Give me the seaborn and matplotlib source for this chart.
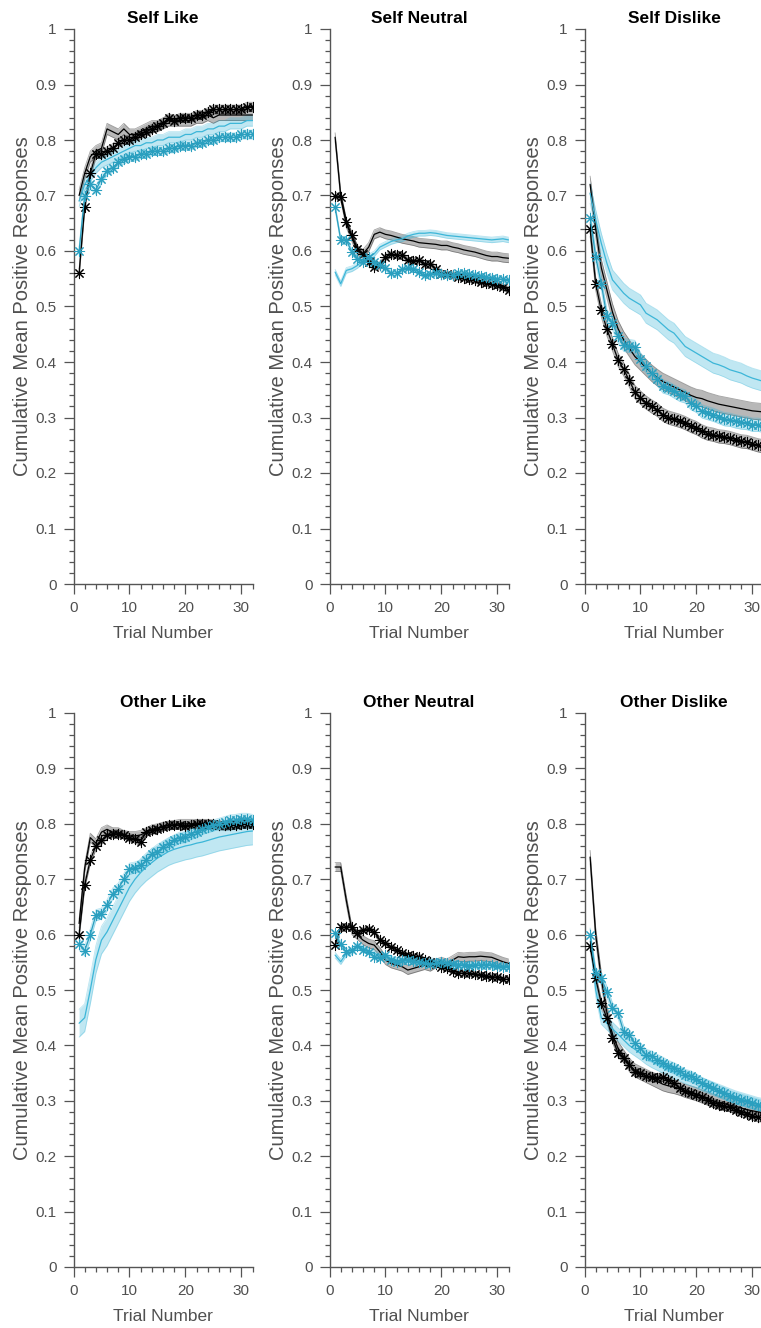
import matplotlib
matplotlib.use("Agg")
import numpy as np
import matplotlib.pyplot as plt
import seaborn as sns
from matplotlib.ticker import MultipleLocator, FuncFormatter

# ---------------------------------------------------------------- data
trials = list(range(1, 33))

panel_titles = ["Self Like", "Self Neutral", "Self Dislike",
                "Other Like", "Other Neutral", "Other Dislike"]

# each panel: black line, black stars, cyan line, cyan stars
self_like_k_line = [0.70, 0.74, 0.77, 0.78, 0.785, 0.82, 0.815, 0.81, 0.82, 0.81, 0.81, 0.815, 0.82, 0.825, 0.825, 0.83,
                    0.835, 0.835, 0.835, 0.835, 0.835, 0.84, 0.84, 0.845, 0.84, 0.845, 0.845, 0.845, 0.845, 0.845, 0.845, 0.845]
self_like_k_star = [0.56, 0.68, 0.74, 0.775, 0.775, 0.78, 0.785, 0.795, 0.80, 0.80, 0.805, 0.81, 0.815, 0.82, 0.825, 0.83,
                    0.84, 0.835, 0.84, 0.84, 0.84, 0.845, 0.845, 0.85, 0.855, 0.855, 0.855, 0.855, 0.855, 0.855, 0.86, 0.86]
self_like_c_line = [0.69, 0.72, 0.735, 0.75, 0.76, 0.765, 0.77, 0.775, 0.78, 0.785, 0.79, 0.79, 0.795, 0.795, 0.80, 0.80,
                    0.805, 0.805, 0.805, 0.81, 0.81, 0.815, 0.815, 0.82, 0.82, 0.825, 0.825, 0.83, 0.83, 0.83, 0.835, 0.835]
self_like_c_star = [0.60, 0.70, 0.72, 0.71, 0.73, 0.745, 0.75, 0.76, 0.765, 0.77, 0.77, 0.775, 0.775, 0.78, 0.78, 0.78,
                    0.785, 0.785, 0.79, 0.79, 0.79, 0.795, 0.795, 0.80, 0.80, 0.805, 0.805, 0.805, 0.805, 0.81, 0.81, 0.81]
self_like_sem = [0.010, 0.008, 0.010, 0.008]

self_neutral_k_line = [0.805, 0.70, 0.65, 0.625, 0.60, 0.595, 0.607, 0.63, 0.634, 0.63, 0.628, 0.625, 0.622, 0.62, 0.618, 0.615,
                       0.614, 0.613, 0.612, 0.61, 0.61, 0.607, 0.605, 0.602, 0.60, 0.598, 0.595, 0.592, 0.59, 0.59, 0.588, 0.587]
self_neutral_k_star = [0.70, 0.697, 0.652, 0.628, 0.604, 0.595, 0.58, 0.571, 0.574, 0.589, 0.594, 0.592, 0.592, 0.583, 0.582, 0.583,
                       0.577, 0.576, 0.568, 0.559, 0.558, 0.556, 0.554, 0.552, 0.55, 0.548, 0.545, 0.543, 0.54, 0.538, 0.535, 0.53]
self_neutral_c_line = [0.562, 0.541, 0.565, 0.568, 0.574, 0.583, 0.589, 0.595, 0.607, 0.612, 0.617, 0.62, 0.622, 0.627, 0.63, 0.632,
                       0.632, 0.633, 0.632, 0.63, 0.628, 0.627, 0.626, 0.625, 0.624, 0.623, 0.622, 0.621, 0.62, 0.621, 0.622, 0.62]
self_neutral_c_star = [0.679, 0.62, 0.62, 0.598, 0.586, 0.58, 0.589, 0.58, 0.575, 0.57, 0.56, 0.56, 0.567, 0.57, 0.568, 0.562,
                       0.556, 0.558, 0.56, 0.558, 0.556, 0.557, 0.56, 0.56, 0.558, 0.556, 0.555, 0.553, 0.552, 0.55, 0.549, 0.547]
self_neutral_sem = [0.008, 0.006, 0.005, 0.005]

self_dislike_k_line = [0.72, 0.64, 0.57, 0.53, 0.49, 0.46, 0.44, 0.425, 0.41, 0.40, 0.39, 0.38, 0.372, 0.365, 0.36, 0.355,
                       0.35, 0.345, 0.34, 0.336, 0.334, 0.33, 0.327, 0.324, 0.322, 0.32, 0.318, 0.316, 0.314, 0.312, 0.311, 0.31]
self_dislike_k_star = [0.639, 0.541, 0.493, 0.459, 0.432, 0.404, 0.387, 0.367, 0.346, 0.336, 0.327, 0.32, 0.314, 0.305, 0.30, 0.297,
                       0.294, 0.29, 0.285, 0.281, 0.275, 0.271, 0.269, 0.266, 0.265, 0.263, 0.26, 0.257, 0.256, 0.253, 0.25, 0.248]
self_dislike_c_line = [0.704, 0.656, 0.614, 0.578, 0.548, 0.536, 0.524, 0.515, 0.509, 0.503, 0.488, 0.482, 0.476, 0.467, 0.458, 0.452,
                       0.44, 0.428, 0.422, 0.416, 0.41, 0.404, 0.398, 0.395, 0.391, 0.386, 0.383, 0.38, 0.375, 0.371, 0.368, 0.365]
self_dislike_c_star = [0.66, 0.59, 0.541, 0.482, 0.47, 0.446, 0.431, 0.429, 0.427, 0.405, 0.392, 0.38, 0.369, 0.356, 0.353, 0.347,
                       0.341, 0.338, 0.326, 0.321, 0.311, 0.308, 0.305, 0.301, 0.297, 0.296, 0.293, 0.291, 0.29, 0.287, 0.287, 0.285]
self_dislike_sem = [0.015, 0.012, 0.018, 0.012]

other_like_k_line = [0.62, 0.72, 0.775, 0.765, 0.785, 0.79, 0.785, 0.785, 0.78, 0.778, 0.778, 0.78, 0.785, 0.79, 0.792, 0.795,
                     0.797, 0.798, 0.80, 0.80, 0.80, 0.80, 0.80, 0.80, 0.798, 0.797, 0.796, 0.797, 0.798, 0.80, 0.80, 0.80]
other_like_k_star = [0.60, 0.69, 0.735, 0.76, 0.77, 0.78, 0.782, 0.782, 0.78, 0.775, 0.772, 0.768, 0.785, 0.788, 0.79, 0.795,
                     0.797, 0.798, 0.797, 0.796, 0.798, 0.80, 0.80, 0.80, 0.80, 0.798, 0.797, 0.797, 0.798, 0.80, 0.80, 0.80]
other_like_c_line = [0.44, 0.45, 0.50, 0.555, 0.59, 0.605, 0.625, 0.645, 0.665, 0.685, 0.70, 0.712, 0.722, 0.73, 0.738, 0.744,
                     0.75, 0.754, 0.757, 0.76, 0.762, 0.765, 0.767, 0.77, 0.773, 0.776, 0.778, 0.78, 0.782, 0.784, 0.786, 0.787]
other_like_c_star = [0.583, 0.571, 0.60, 0.635, 0.638, 0.653, 0.674, 0.683, 0.70, 0.719, 0.721, 0.725, 0.734, 0.746, 0.749, 0.758,
                     0.764, 0.77, 0.775, 0.776, 0.782, 0.785, 0.791, 0.794, 0.797, 0.80, 0.803, 0.806, 0.807, 0.809, 0.809, 0.807]
other_like_sem = [0.008, 0.007, 0.025, 0.010]

other_neutral_k_line = [0.722, 0.722, 0.662, 0.608, 0.599, 0.59, 0.584, 0.581, 0.569, 0.554, 0.548, 0.545, 0.542, 0.536, 0.539, 0.542,
                        0.545, 0.542, 0.548, 0.551, 0.548, 0.554, 0.56, 0.559, 0.56, 0.56, 0.561, 0.56, 0.559, 0.555, 0.551, 0.548]
other_neutral_k_star = [0.581, 0.613, 0.614, 0.614, 0.602, 0.608, 0.611, 0.605, 0.59, 0.584, 0.578, 0.572, 0.566, 0.563, 0.561, 0.56,
                        0.554, 0.551, 0.547, 0.542, 0.539, 0.535, 0.531, 0.53, 0.53, 0.529, 0.527, 0.526, 0.524, 0.523, 0.52, 0.519]
other_neutral_c_line = [0.563, 0.551, 0.566, 0.569, 0.581, 0.575, 0.569, 0.566, 0.563, 0.56, 0.557, 0.554, 0.551, 0.551, 0.551, 0.551,
                        0.553, 0.553, 0.552, 0.55, 0.549, 0.548, 0.547, 0.546, 0.546, 0.545, 0.545, 0.545, 0.545, 0.544, 0.543, 0.542]
other_neutral_c_star = [0.602, 0.583, 0.569, 0.572, 0.579, 0.572, 0.569, 0.56, 0.557, 0.563, 0.554, 0.551, 0.554, 0.555, 0.553, 0.551,
                        0.548, 0.547, 0.548, 0.55, 0.548, 0.547, 0.545, 0.545, 0.544, 0.545, 0.545, 0.546, 0.545, 0.543, 0.542, 0.542]
other_neutral_sem = [0.008, 0.005, 0.005, 0.005]

other_dislike_k_line = [0.74, 0.60, 0.52, 0.46, 0.42, 0.395, 0.38, 0.365, 0.355, 0.35, 0.345, 0.34, 0.335, 0.33, 0.327, 0.325,
                        0.322, 0.318, 0.315, 0.312, 0.308, 0.304, 0.30, 0.297, 0.295, 0.292, 0.29, 0.287, 0.284, 0.282, 0.28, 0.278]
other_dislike_k_star = [0.58, 0.521, 0.476, 0.449, 0.413, 0.386, 0.377, 0.365, 0.352, 0.35, 0.345, 0.343, 0.341, 0.343, 0.338, 0.332,
                        0.323, 0.317, 0.314, 0.311, 0.307, 0.302, 0.296, 0.293, 0.29, 0.289, 0.284, 0.279, 0.277, 0.273, 0.27, 0.27]
other_dislike_c_line = [0.60, 0.50, 0.45, 0.44, 0.43, 0.42, 0.41, 0.40, 0.393, 0.386, 0.378, 0.372, 0.367, 0.362, 0.357, 0.352,
                        0.348, 0.343, 0.339, 0.335, 0.33, 0.326, 0.322, 0.318, 0.314, 0.31, 0.306, 0.303, 0.30, 0.297, 0.294, 0.292]
other_dislike_c_star = [0.60, 0.53, 0.521, 0.497, 0.467, 0.458, 0.425, 0.419, 0.404, 0.395, 0.383, 0.38, 0.374, 0.369, 0.363, 0.359,
                        0.353, 0.347, 0.344, 0.339, 0.332, 0.327, 0.323, 0.317, 0.314, 0.308, 0.305, 0.302, 0.299, 0.296, 0.293, 0.29]
other_dislike_sem = [0.012, 0.008, 0.012, 0.010]

panels = [
    ([self_like_k_line, self_like_k_star, self_like_c_line, self_like_c_star], self_like_sem),
    ([self_neutral_k_line, self_neutral_k_star, self_neutral_c_line, self_neutral_c_star], self_neutral_sem),
    ([self_dislike_k_line, self_dislike_k_star, self_dislike_c_line, self_dislike_c_star], self_dislike_sem),
    ([other_like_k_line, other_like_k_star, other_like_c_line, other_like_c_star], other_like_sem),
    ([other_neutral_k_line, other_neutral_k_star, other_neutral_c_line, other_neutral_c_star], other_neutral_sem),
    ([other_dislike_k_line, other_dislike_k_star, other_dislike_c_line, other_dislike_c_star], other_dislike_sem),
]

# ---------------------------------------------------------------- style
sns.set_style("ticks")
plt.rcParams["font.family"] = ["Liberation Sans", "DejaVu Sans"]

BLACK = "#000000"
CYAN_LINE = "#3cb6d8"
CYAN_STAR = "#2a9fbf"
AXIS_GREY = "#555555"
TEXT_GREY = "#505050"
ASTERISK = (8, 2, 0)

series_style = [
    dict(color=BLACK, band="#000000", star=False),
    dict(color=BLACK, band="#000000", star=True),
    dict(color=CYAN_LINE, band=CYAN_LINE, star=False),
    dict(color=CYAN_STAR, band=CYAN_LINE, star=True),
]

W, H = 761, 1328
fig = plt.figure(figsize=(W / 100, H / 100), dpi=100)

col_left_px = [73.5, 329.5, 584.5]
axis_width_px = 179.0
rows_px = [(29.0, 584.0), (713.0, 1267.0)]  # (top, bottom) pixel rows


def ytick_text(v, _pos):
    if abs(v) < 1e-9:
        return "0"
    if abs(v - 1) < 1e-9:
        return "1"
    return f"{v:.1f}"


for idx, (series, sems) in enumerate(panels):
    r, c = divmod(idx, 3)
    top, bot = rows_px[r]
    ax = fig.add_axes([col_left_px[c] / W, (H - bot) / H,
                       axis_width_px / W, (bot - top) / H])

    x = np.array(trials, dtype=float)
    # shaded bands first
    for vals, sem, st in zip(series, sems, series_style):
        y = np.array(vals)
        a = 0.28 if st["band"] == "#000000" else 0.32
        ax.fill_between(x, y - sem, y + sem, color=st["band"], alpha=a, lw=0, zorder=1)
        for edge in (y - sem, y + sem):
            ax.plot(x, edge, color=st["band"], alpha=0.35, lw=0.6, zorder=1)
    # mean curves
    for vals, st in zip(series, series_style):
        if st["star"]:
            sns.lineplot(x=trials, y=vals, ax=ax, color=st["color"], lw=0.9,
                         marker=ASTERISK, markersize=8, markeredgewidth=0.75,
                         markeredgecolor=st["color"], markerfacecolor=st["color"],
                         zorder=3, errorbar=None)
        else:
            sns.lineplot(x=trials, y=vals, ax=ax, color=st["color"], lw=0.9,
                         zorder=2, errorbar=None)

    ax.set_xlim(0, 32)
    ax.set_ylim(0, 1)
    ax.xaxis.set_major_locator(MultipleLocator(10))
    ax.xaxis.set_minor_locator(MultipleLocator(2))
    ax.yaxis.set_major_locator(MultipleLocator(0.1))
    ax.yaxis.set_minor_locator(MultipleLocator(0.02))
    ax.yaxis.set_major_formatter(FuncFormatter(ytick_text))
    ax.tick_params(which="major", direction="out", length=7, width=0.9,
                   color=AXIS_GREY, labelcolor=TEXT_GREY, labelsize=11)
    ax.tick_params(axis="x", which="major", pad=5)
    ax.tick_params(axis="y", which="major", pad=5)
    ax.tick_params(which="minor", direction="out", length=3.6, width=0.9, color=AXIS_GREY)
    sns.despine(ax=ax)
    for side in ("left", "bottom"):
        ax.spines[side].set_color(AXIS_GREY)
        ax.spines[side].set_linewidth(1.0)
    ax.set_title(panel_titles[idx], fontsize=12.5, fontweight="bold", color="black", pad=4)
    ax.set_xlabel("Trial Number", fontsize=12.5, color=TEXT_GREY, labelpad=8)
    ax.set_ylabel("Cumulative Mean Positive Responses", fontsize=14.5, color=TEXT_GREY, labelpad=3)

fig.savefig("out.png", dpi=100)
